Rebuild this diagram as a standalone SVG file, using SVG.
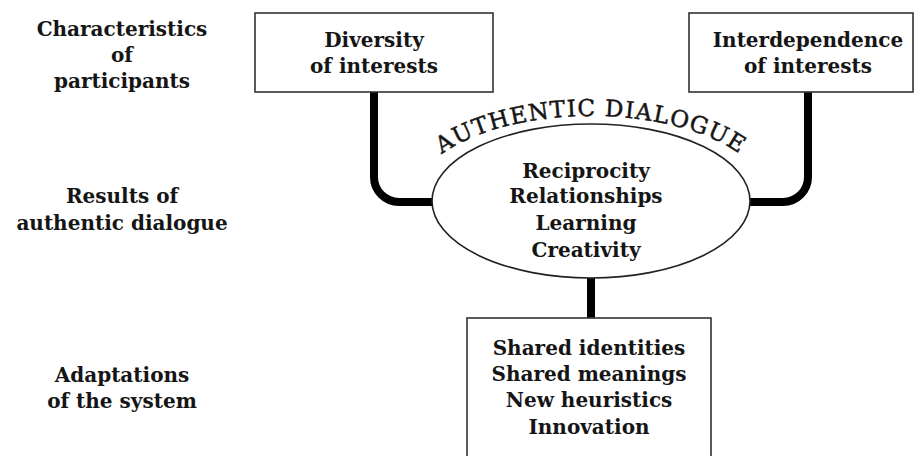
<svg xmlns="http://www.w3.org/2000/svg" width="914" height="456" viewBox="0 0 914 456">
<style>
.t{font-family:"DejaVu Serif","Liberation Serif",serif;font-weight:bold;font-size:20px;fill:#151515;text-anchor:middle}
.box{fill:#fff;stroke:#333;stroke-width:1.6}
.con{fill:none;stroke:#000;stroke-width:8}
.arc{font-family:"DejaVu Serif","Liberation Serif",serif;font-size:23px;fill:#151515;stroke:#151515;stroke-width:0.5;letter-spacing:1.2px}
</style>
<rect width="914" height="456" fill="#fff"/>
<g id="labels">
<text class="t" x="122" y="36">Characteristics</text>
<text class="t" x="122" y="62">of</text>
<text class="t" x="122" y="88">participants</text>
<text class="t" x="122" y="203">Results of</text>
<text class="t" x="122" y="230">authentic dialogue</text>
<text class="t" x="122" y="382">Adaptations</text>
<text class="t" x="122" y="408">of the system</text>
</g>
<g id="connectors">
<path class="con" d="M374,92 V177 A25,25 0 0 0 399,202 H433"/>
<path class="con" d="M808,92 V177 A25,25 0 0 1 783,202 H750"/>
<path class="con" d="M591,278 V318"/>
</g>
<g id="diversity">
<rect class="box" x="255" y="13" width="238" height="79"/>
<text class="t" x="374" y="47">Diversity</text>
<text class="t" x="374" y="73">of interests</text>
</g>
<g id="interdependence">
<rect class="box" x="689" y="13" width="224" height="79"/>
<text class="t" x="808" y="47">Interdependence</text>
<text class="t" x="808" y="73">of interests</text>
</g>
<g id="dialogue">
<ellipse cx="591" cy="201" rx="159" ry="77" fill="#fff" stroke="#222" stroke-width="1.6"/>
<defs><path id="arcp" d="M413,200 A178,84 0 0 1 769,200"/></defs>
<text class="arc" text-anchor="middle"><textPath href="#arcp" startOffset="50%">AUTHENTIC DIALOGUE</textPath></text>
<text class="t" x="586" y="178">Reciprocity</text>
<text class="t" x="586" y="203">Relationships</text>
<text class="t" x="586" y="230">Learning</text>
<text class="t" x="586" y="257">Creativity</text>
</g>
<g id="adaptations">
<rect class="box" x="467" y="318" width="244" height="150"/>
<text class="t" x="589" y="355">Shared identities</text>
<text class="t" x="589" y="381">Shared meanings</text>
<text class="t" x="589" y="407">New heuristics</text>
<text class="t" x="589" y="434">Innovation</text>
</g>
</svg>
